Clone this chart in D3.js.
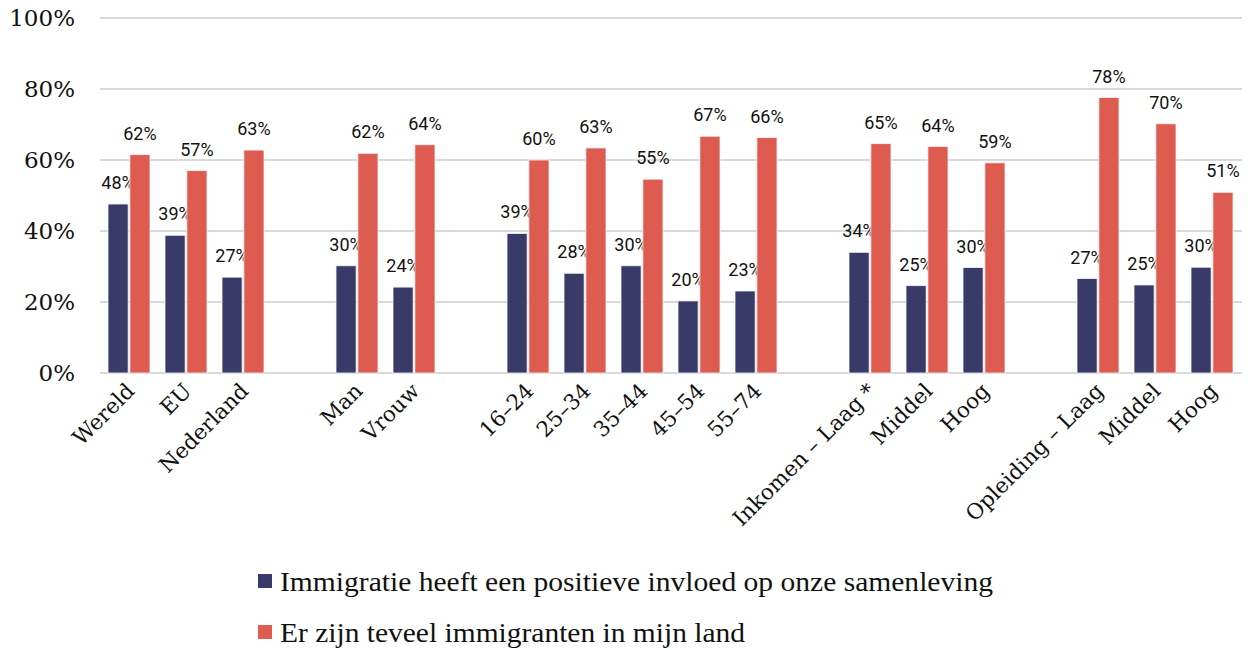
<!DOCTYPE html>
<html><head><meta charset="utf-8">
<script src="https://cdn.jsdelivr.net/npm/d3@7/dist/d3.min.js"></script>
<style>body{margin:0;background:#fff}</style>
</head><body><svg id="c" width="1255" height="650"></svg>
<script>
const categories = ["Wereld","EU","Nederland","","Man","Vrouw","","16–24","25–34","35–44","45–54","55–74","","Inkomen – Laag *","Middel","Hoog","","Opleiding – Laag","Middel","Hoog"];
const positief = [47.6,38.8,27,null,30.2,24.2,null,39.3,28.1,30.2,20.3,23.1,null,34,24.6,29.7,null,26.6,24.8,29.8];
const teveel = [61.5,57,62.8,null,61.9,64.3,null,60,63.4,54.6,66.7,66.3,null,64.6,63.8,59.2,null,77.6,70.2,50.9];
const seriesNames = ["Immigratie heeft een positieve invloed op onze samenleving","Er zijn teveel immigranten in mijn land"];
const colors = ["#383b68","#de5b50"];
const yTicks = [0,20,40,60,80,100];

const svg = d3.select("#c");
const keys = categories.map((c,i)=>i);
const x = d3.scaleBand().domain(keys).range([100,1240]).padding(0);
const xi = d3.scaleBand().domain([0,1]).range([8,50]).paddingInner(0.08);
const y = d3.scaleLinear().domain([0,100]).range([373,18]);

svg.append("g").selectAll("line").data(yTicks).join("line")
  .attr("x1",100).attr("x2",1242).attr("y1",d=>y(d)).attr("y2",d=>y(d))
  .attr("stroke","#d9d9d9").attr("stroke-width",2);

svg.append("g").selectAll("text").data(yTicks).join("text")
  .attr("x",75).attr("y",d=>y(d)).attr("dy","0.36em").attr("text-anchor","end")
  .attr("font-family","DejaVu Serif").attr("font-size",23).attr("fill","#111")
  .text(d=>d+"%");

const data = [positief, teveel];
data.forEach((vals,s)=>{
  const g = svg.append("g");
  const pts = vals.map((v,i)=>({v,i})).filter(d=>d.v!=null);
  g.selectAll("rect").data(pts).join("rect")
    .attr("x",d=>x(d.i)+xi(s)).attr("width",xi.bandwidth())
    .attr("y",d=>y(d.v)).attr("height",d=>y(0)-y(d.v))
    .attr("fill",colors[s]).attr("stroke","#f4f4f8").attr("stroke-width",0.8);
  g.selectAll("text").data(pts).join("text")
    .attr("x",d=>x(d.i)+xi(s)+xi.bandwidth()/2).attr("y",d=>y(d.v)-15)
    .attr("text-anchor","middle").attr("font-family","Roboto, Liberation Sans, sans-serif")
    .attr("font-size",18).attr("fill","#111")
    .text(d=>Math.round(d.v)+"%");
});

svg.append("g").selectAll("text").data(categories.map((c,i)=>({c,i})).filter(d=>d.c!==""))
  .join("text")
  .attr("transform",d=>`translate(${x(d.i)+x.bandwidth()/2+2},${387}) rotate(-45)`)
  .attr("text-anchor","end").attr("dy","0.35em")
  .attr("font-family","DejaVu Serif").attr("font-size",21.5).attr("fill","#111")
  .text(d=>d.c);

const legendWidths = [713, 465];
const lg = svg.append("g");
seriesNames.forEach((n,s)=>{
  const cy = 581 + s*51;
  lg.append("rect").attr("x",258).attr("y",cy-7).attr("width",14).attr("height",14).attr("fill",colors[s]);
  lg.append("text").attr("x",280).attr("y",cy).attr("dy","0.35em")
    .attr("font-family","Liberation Serif").attr("font-size",28).attr("fill","#111")
    .attr("textLength",legendWidths[s]).attr("lengthAdjust","spacingAndGlyphs").text(n);
});
</script></body></html>
